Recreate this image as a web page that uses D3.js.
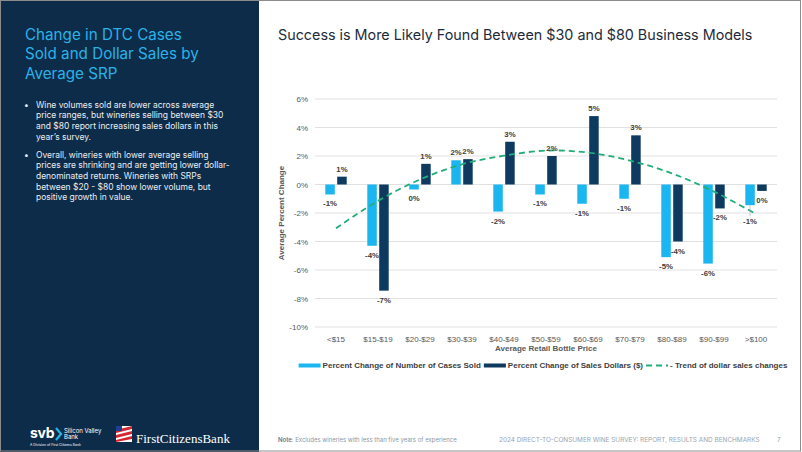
<!DOCTYPE html>
<html><head><meta charset="utf-8">
<script src="https://cdn.jsdelivr.net/npm/d3@7"></script>
<style>body{margin:0;background:#fff}svg{display:block}</style></head>
<body><svg id="c" width="802" height="452"></svg>
<script>
// ---- data ----
const categories = ["<$15","$15-$19","$20-$29","$30-$39","$40-$49","$50-$59","$60-$69","$70-$79","$80-$89","$90-$99",">$100"];
const casesSold = [-0.7,-4.3,-0.35,1.7,-1.9,-0.7,-1.35,-1.0,-5.1,-5.55,-1.45];
const salesDollars = [0.55,-7.45,1.45,1.78,3.0,2.0,4.8,3.45,-4.0,-1.68,-0.45];
const trendDollars = [-3.07,-1.15,0.35,1.42,2.02,2.38,2.24,1.68,0.78,-0.5,-2.07];
const yTicks = [6,4,2,0,-2,-4,-6,-8,-10];
const seriesNames = ["Percent Change of Number of Cases Sold","Percent Change of Sales Dollars ($)","- Trend of dollar sales changes"];
const chartTitle = "Success is More Likely Found Between $30 and $80 Business Models";
const sideTitle = ["Change in DTC Cases","Sold and Dollar Sales by","Average SRP"];
const bullets = [
  ["Wine volumes sold are lower across average","price ranges, but wineries selling between $30","and $80 report increasing sales dollars in this","year’s survey."],
  ["Overall, wineries with lower average selling","prices are shrinking and are getting lower dollar-","denominated returns. Wineries with SRPs","between $20 - $80 show lower volume, but","positive growth in value."]
];

const C = {navy:"#0d2c49", cyan:"#2ab2e8", light:"#1bb6ef", dark:"#0e3a60", green:"#22ad78", grid:"#d9d9d9", tick:"#595959"};
const svg = d3.select("#c");
function fitW(sel, w){ const l = sel.node().getComputedTextLength(); if(l>0) sel.attr("font-size", parseFloat(sel.attr("font-size"))*w/l); return sel; }

svg.append("rect").attr("width",802).attr("height",452).attr("fill","#fff");
// left panel
svg.append("rect").attr("x",0).attr("y",0).attr("width",259).attr("height",452).attr("fill",C.navy);
const st = svg.append("g").attr("font-family","Inter, 'Open Sans', sans-serif").attr("fill",C.cyan);
const stT = sideTitle.map((t,i)=> st.append("text").attr("x",25).attr("y",39.5+i*19.5).attr("font-size",16).text(t));
const k1 = 174/stT[1].node().getComputedTextLength();
stT.forEach(t=>t.attr("font-size",16*k1));

const bg = svg.append("g").attr("font-family","Inter, 'Open Sans', sans-serif").attr("fill","#e9eef3");
const tmp = bg.append("text").attr("font-size",9).text(bullets[1][1]);
const bfs = 9*194/tmp.node().getComputedTextLength(); tmp.remove();
const bStart = [107.5, 157.5];
bullets.forEach((lines,b)=>{
  bg.append("text").attr("x",24).attr("y",bStart[b]).attr("font-size",bfs).text("•");
  lines.forEach((l,i)=> bg.append("text").attr("x",36).attr("y",bStart[b]+i*10.7).attr("font-size",bfs).text(l));
});

// logos
const lg = svg.append("g").attr("fill","#fff");
lg.append("text").attr("x",30).attr("y",438).attr("font-family","Inter, sans-serif").attr("font-weight",700).attr("font-size",14).attr("letter-spacing",-0.3).text("svb");
lg.append("path").attr("d","M56,428 L61,434 L56,440").attr("fill","none").attr("stroke","#1fb5ea").attr("stroke-width",2.2);
lg.append("text").attr("x",64).attr("y",432.5).attr("font-family","Inter, sans-serif").attr("font-size",6).text("Silicon Valley");
lg.append("text").attr("x",64).attr("y",438.5).attr("font-family","Inter, sans-serif").attr("font-size",6).text("Bank");
lg.append("text").attr("x",30).attr("y",445.5).attr("font-family","Inter, sans-serif").attr("font-size",3.4).text("A Division of First Citizens Bank");
const fl = svg.append("g");
fl.append("rect").attr("x",116).attr("y",426).attr("width",16).attr("height",16).attr("fill","#fff");
fl.append("path").attr("d","M116,430 L132,426 L132,429 L116,433Z M116,435 L132,431 L132,434 L116,438Z M116,440 L132,436 L132,439 L116,442Z").attr("fill","#d22630");
fl.append("rect").attr("x",116).attr("y",426).attr("width",6).attr("height",5).attr("fill","#1f3f8f");
const fcb = lg.append("text").attr("x",136).attr("y",442.5).attr("font-family","'Liberation Serif', serif").attr("font-size",14).text("FirstCitizensBank");
fitW(fcb,94);

// chart title
const ct = svg.append("text").attr("x",278).attr("y",39.5).attr("font-family","Inter, 'Open Sans', sans-serif").attr("font-size",16).attr("fill","#1d2b3a").text(chartTitle);
fitW(ct,475);

// scales
const x = d3.scaleBand().domain(categories).range([315,777]);
const y = d3.scaleLinear().domain([-10,6]).range([327,99]);
const bw = 9.5, gap = 2.4;

// grid
const g = svg.append("g");
g.selectAll("line.grid").data(yTicks).join("line").attr("class","grid")
  .attr("x1",315).attr("x2",777).attr("y1",d=>y(d)).attr("y2",d=>y(d))
  .attr("stroke",C.grid).attr("stroke-width",0.8);

// y axis labels
const yAxis = d3.axisLeft(y).tickValues(yTicks).tickFormat(d=>d+"%").tickSize(0).tickPadding(0);
const ya = svg.append("g").attr("transform","translate(308,0)").call(yAxis);
ya.select(".domain").remove();
ya.selectAll("text").attr("font-family","'Liberation Sans', Arial, sans-serif").attr("font-size",8).attr("fill",C.tick);

// x axis labels
const xAxis = d3.axisBottom(x).tickSize(0).tickPadding(0);
const xa = svg.append("g").attr("transform","translate(0,336)").call(xAxis);
xa.select(".domain").remove();
xa.selectAll("text").attr("font-family","'Liberation Sans', Arial, sans-serif").attr("font-size",8).attr("fill",C.tick);

svg.append("text").attr("x",546).attr("y",350.5).attr("text-anchor","middle")
  .attr("font-family","'Liberation Sans', Arial, sans-serif").attr("font-weight",700).attr("font-size",8).attr("fill",C.tick).text("Average Retail Bottle Price");
svg.append("text").attr("transform","translate(284,213) rotate(-90)").attr("text-anchor","middle")
  .attr("font-family","'Liberation Sans', Arial, sans-serif").attr("font-weight",700).attr("font-size",8).attr("fill",C.tick).text("Average Percent Change");

// bars
const cx = c => x(c) + x.bandwidth()/2;
const x0 = c => cx(c) - (bw*2+gap)/2;
const bars = svg.append("g");
bars.selectAll("rect.l").data(categories).join("rect").attr("class","l")
  .attr("x",c=>x0(c)).attr("width",bw)
  .attr("y",(c,i)=>y(Math.max(0,casesSold[i]))).attr("height",(c,i)=>Math.abs(y(casesSold[i])-y(0)))
  .attr("fill",C.light);
bars.selectAll("rect.d").data(categories).join("rect").attr("class","d")
  .attr("x",c=>x0(c)+bw+gap).attr("width",bw)
  .attr("y",(c,i)=>y(Math.max(0,salesDollars[i]))).attr("height",(c,i)=>Math.abs(y(salesDollars[i])-y(0)))
  .attr("fill",C.dark);

// trend
const line = d3.line().x((d,i)=>cx(categories[i])).y(d=>y(d)).curve(d3.curveCatmullRom);
svg.append("path").datum(trendDollars).attr("d",line).attr("fill","none")
  .attr("stroke",C.green).attr("stroke-width",1.8).attr("stroke-dasharray","6,4");

// labels
const fmt = v => { const r = Math.round(v); return (r===0?0:r)+"%"; };
const lab = svg.append("g").attr("font-family","'Liberation Sans', Arial, sans-serif").attr("font-weight",700).attr("font-size",7.8).attr("fill","#404040").attr("text-anchor","middle");
function labels(vals, off, cls){
  lab.selectAll("text."+cls).data(categories).join("text").attr("class",cls)
    .attr("x",c=>x0(c)+off+bw/2)
    .attr("y",(c,i)=>{ const v=vals[i]; let extra = (cls==="l" && i===10)?7:0; return v>=0 ? y(v)-5 : y(v)+12+extra; })
    .text((c,i)=>fmt(vals[i]));
}
labels(casesSold,0,"l");
labels(salesDollars,bw+gap,"d");
svg.append("line").attr("x1",x0(categories[10])+bw/2).attr("x2",x0(categories[10])+bw/2)
  .attr("y1",y(casesSold[10])).attr("y2",y(casesSold[10])+11).attr("stroke","#a6a6a6").attr("stroke-width",0.6);

// legend: uniform font, sequential layout, centred on plot
const leg = svg.append("g").attr("font-family","'Liberation Sans', Arial, sans-serif").attr("font-weight",700).attr("fill","#404040");
const lfs = 8, sw = 22, legY = 365.5;
const items = [
  {name:seriesNames[0], type:"bar", color:C.light},
  {name:seriesNames[1], type:"bar", color:C.dark},
  {name:seriesNames[2], type:"dash", color:C.green}
];
const gi = items.map(it=>{
  const gg = leg.append("g");
  if(it.type==="bar") gg.append("rect").attr("x",0).attr("y",legY-2).attr("width",sw).attr("height",4).attr("fill",it.color);
  else gg.append("line").attr("x1",0).attr("x2",sw).attr("y1",legY).attr("y2",legY).attr("stroke",it.color).attr("stroke-width",1.8).attr("stroke-dasharray","6,4");
  const t = gg.append("text").attr("x",sw+2).attr("y",legY+2.9).attr("font-size",lfs).text(it.name);
  return {gg, w: sw+2+t.node().getComputedTextLength()};
});
const spacing = 3;
const totalW = d3.sum(gi,d=>d.w)+spacing*(gi.length-1);
let lx = 543 - totalW/2;
gi.forEach(d=>{ d.gg.attr("transform",`translate(${lx},0)`); lx += d.w + spacing; });

// footer
const ft = svg.append("text").attr("x",278).attr("y",442).attr("font-family","Inter, 'Open Sans', sans-serif").attr("font-size",6.3);
ft.append("tspan").attr("fill","#5d7a95").attr("font-weight",600).text("Note");
ft.append("tspan").attr("fill","#8b98a5").text(": Excludes wineries with less than five years of experience");
fitW(ft,179);
const sv = svg.append("text").attr("x",499).attr("y",442).attr("font-family","Inter, 'Open Sans', sans-serif").attr("font-size",6.5).attr("fill","#9aa4ae").text("2024 DIRECT-TO-CONSUMER WINE SURVEY: REPORT, RESULTS AND BENCHMARKS");
fitW(sv,261);
svg.append("text").attr("x",777).attr("y",442).attr("font-family","Inter, 'Open Sans', sans-serif").attr("font-size",6.5).attr("fill","#9aa4ae").text("7");

// border
svg.append("rect").attr("x",0.5).attr("y",0.5).attr("width",800).attr("height",450.5).attr("fill","none").attr("stroke","#8c8c8c").attr("stroke-width",1);
</script></body></html>
